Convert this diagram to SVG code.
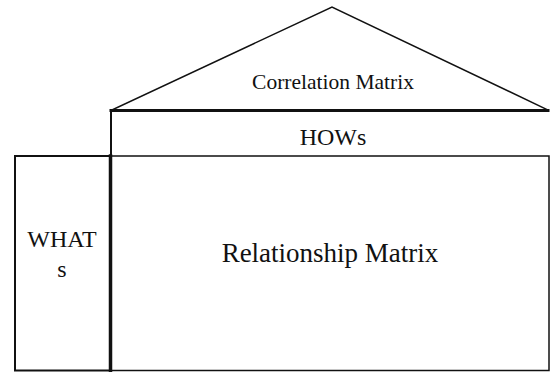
<svg xmlns="http://www.w3.org/2000/svg" width="550" height="372" viewBox="0 0 550 372">
<style>
.ln{fill:none;stroke:#111;stroke-linecap:square}
.t{fill:#111;text-anchor:middle}
</style>
<rect width="550" height="372" fill="#fff"/>
<g id="correlation-matrix">
<polyline class="ln" points="112,110 332,7 548,110" stroke-width="1.5"/>
<text class="t" font-family="'Liberation Serif', 'Times New Roman', serif" x="333" y="89" font-size="21.5">Correlation Matrix</text>
</g>
<g id="hows">
<line class="ln" x1="111" y1="110.5" x2="548" y2="110.5" stroke-width="3"/>
<line class="ln" x1="111" y1="111" x2="111" y2="156" stroke-width="2"/>
<text class="t" font-family="'Liberation Serif', 'Times New Roman', serif" x="333" y="145" font-size="24">HOWs</text>
</g>
<g id="whats">
<rect class="ln" x="15" y="156" width="95" height="214.5" stroke-width="2"/>
<text class="t" font-family="'Liberation Serif', 'Times New Roman', serif" x="62" y="247" font-size="24">WHAT</text>
<text class="t" font-family="'Liberation Serif', 'Times New Roman', serif" x="62" y="277" font-size="24">s</text>
</g>
<g id="relationship-matrix">
<rect class="ln" x="110" y="156" width="439" height="214.5" stroke-width="1.5" stroke="#444"/>
<line class="ln" x1="110.5" y1="156" x2="110.5" y2="370.5" stroke-width="3.5"/>
<text class="t" font-family="'Liberation Serif', 'Times New Roman', serif" x="330" y="262" font-size="27">Relationship Matrix</text>
</g>
<g id="connectors"/>
</svg>
